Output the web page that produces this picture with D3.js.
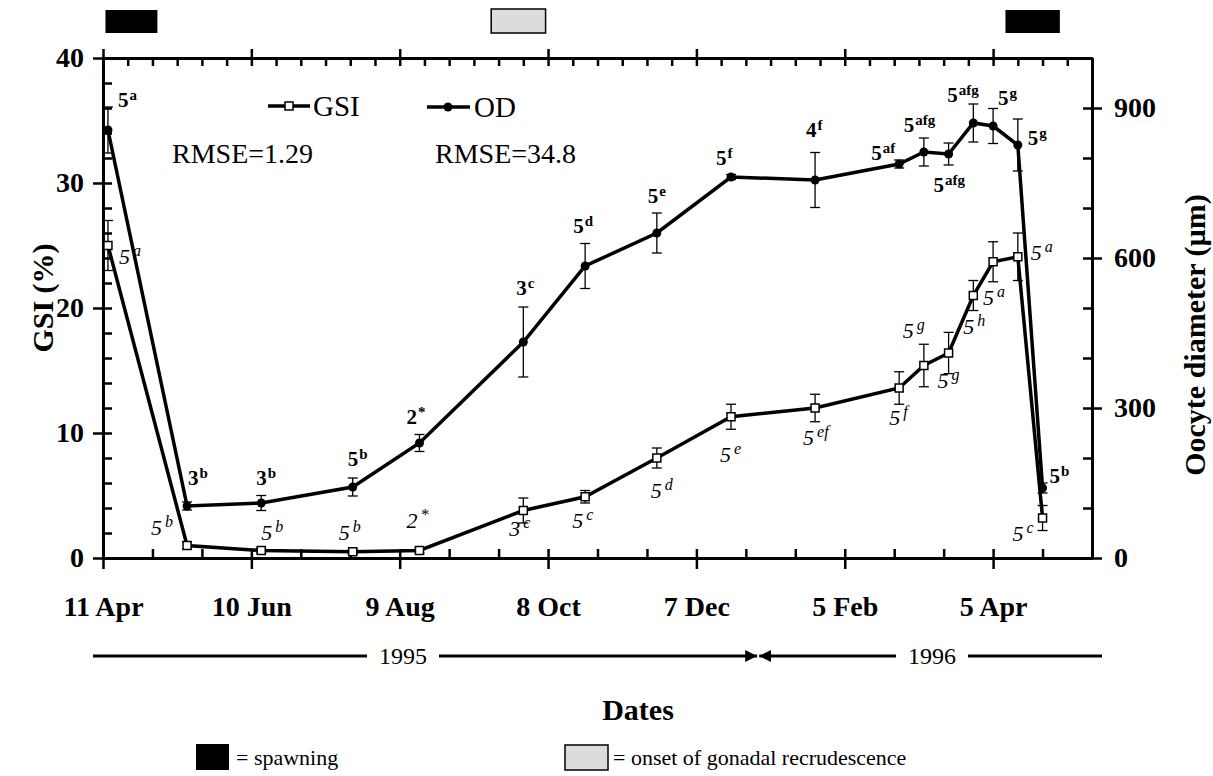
<!DOCTYPE html>
<html>
<head>
  <meta charset="utf-8">
  <title>GSI and oocyte diameter</title>
  <style>
    body { margin: 0; background: #fff; }
    svg { font-family: "Liberation Serif", "Times New Roman", serif; }
    .axis path, .axis line { stroke: #000; }
    .axis path { stroke-width: 3; }
    .axis line { stroke-width: 2.5; }
    .axis text { font-size: 28px; font-weight: bold; font-family: "Liberation Serif", serif; fill: #000; }
  </style>
  <script src="https://cdn.jsdelivr.net/npm/d3@7"></script>
</head>
<body>
<div id="chart"></div>
<script>
// sampling dates, same for both series
const dates = ['1995-04-13', '1995-05-15', '1995-06-14', '1995-07-21', '1995-08-17',
  '1995-09-28', '1995-10-23', '1995-11-21', '1995-12-21', '1996-01-24', '1996-02-27',
  '1996-03-08', '1996-03-18', '1996-03-28', '1996-04-05', '1996-04-15', '1996-04-25'];

// gonadosomatic index (%) and SE
const gsi    = [25.0, 1.0, 0.6, 0.5, 0.6, 3.8, 4.9, 8.0, 11.3, 12.0, 13.6, 15.4, 16.4, 21.0, 23.7, 24.1, 3.2];
const gsiErr = [2.0, 0.3, 0.2, 0.2, 0.2, 1.0, 0.5, 0.8, 1.0, 1.1, 1.3, 1.7, 1.65, 1.2, 1.6, 1.9, 1.0];

// oocyte diameter (um) and SE
const od    = [856, 104, 110, 142, 230, 432, 584, 650, 762, 756, 788, 812, 808, 870, 864, 826, 140];
const odErr = [46, 8, 15, 18, 17, 70, 45, 40, 5, 55, 8, 28, 22, 38, 35, 52, 10];

// n and significance letters
const gsiN   = [5, 5, 5, 5, 2, 3, 5, 5, 5, 5, 5, 5, 5, 5, 5, 5, 5];
const gsiSup = ['a', 'b', 'b', 'b', '*', 'c', 'c', 'd', 'e', 'ef', 'f', 'g', 'g', 'h', 'a', 'a', 'c'];
const odN    = [5, 3, 3, 5, 2, 3, 5, 5, 5, 4, 5, 5, 5, 5, 5, 5, 5];
const odSup  = ['a', 'b', 'b', 'b', '*', 'c', 'd', 'e', 'f', 'f', 'af', 'afg', 'afg', 'afg', 'g', 'g', 'b'];

const tickDays   = [0, 60, 120, 180, 240, 300, 360];
const tickLabels = ['11 Apr', '10 Jun', '9 Aug', '8 Oct', '7 Dec', '5 Feb', '5 Apr'];
const gsiTicks = [0, 10, 20, 30, 40];
const odTicks  = [0, 300, 600, 900];

const spawning = [['1995-04-12', '1995-05-03'], ['1996-04-10', '1996-05-02']];
const recrudescence = [['1995-09-15', '1995-10-07']];

// where each letter sits relative to its point
const odLabelPos = [[10, -23], [1, -21], [-5, -18], [-5, -21], [-13, -19], [-7, -47], [-12, -33],
  [-9, -30], [-15, -12], [-9, -43], [-28, -4], [-20, -20], [-15, 38], [-26, -21], [5, -21], [10, 0], [7, -5]];
const gsiLabelPos = [[11, 18], [-36, -11], [0, -11], [-14, -12], [-13, -23], [-14, 25], [-13, 31],
  [-6, 40], [-11, 45], [-12, 37], [-10, 37], [-21, -28], [-11, 35], [-10, 38], [-10, 43], [13, 3], [-30, 23]];

const W = 1213, H = 776;
const plot = { left: 103, right: 1092, top: 58, bottom: 558 };

const start = new Date('1995-04-11');
const x = d3.scaleUtc()
  .domain([start, new Date('1996-05-15')])
  .range([plot.left, plot.right]);
const yL = d3.scaleLinear().domain([0, 40]).range([plot.bottom, plot.top]);
const yR = d3.scaleLinear().domain([0, 1000]).range([plot.bottom, plot.top]);

const majorDates = tickDays.map(d => d3.utcDay.offset(start, d));
const topMinor = d3.range(0, 401, 10).map(d => d3.utcDay.offset(start, d));
const bottomMinor = d3.range(0, 401, 20).map(d => d3.utcDay.offset(start, d));

const svg = d3.select('#chart').append('svg')
  .attr('width', W)
  .attr('height', H);

const data = dates.map((d, i) => ({
  date: new Date(d), gsi: gsi[i], ge: gsiErr[i], od: od[i], oe: odErr[i]
}));

// ---- axes ----
// bottom
svg.append('g').attr('class', 'axis').attr('transform', `translate(0,${plot.bottom})`)
  .call(d3.axisBottom(x).tickValues(majorDates).tickSize(11).tickSizeOuter(0)
    .tickPadding(27).tickFormat((d, i) => tickLabels[i]));
svg.append('g').attr('class', 'axis').attr('transform', `translate(0,${plot.bottom})`)
  .call(d3.axisTop(x).tickValues(bottomMinor).tickSize(9).tickSizeOuter(0).tickFormat(''));
// top
svg.append('g').attr('class', 'axis').attr('transform', `translate(0,${plot.top})`)
  .call(d3.axisTop(x).tickValues(majorDates).tickSize(9).tickSizeOuter(0).tickFormat(''));
svg.append('g').attr('class', 'axis').attr('transform', `translate(0,${plot.top})`)
  .call(d3.axisBottom(x).tickValues(topMinor).tickSize(8).tickSizeOuter(0).tickFormat(''));
// left
svg.append('g').attr('class', 'axis').attr('transform', `translate(${plot.left},0)`)
  .call(d3.axisLeft(yL).tickValues(gsiTicks).tickSize(10).tickSizeOuter(0).tickPadding(9));
svg.append('g').attr('class', 'axis').attr('transform', `translate(${plot.left},0)`)
  .call(d3.axisRight(yL).tickValues(d3.range(0, 41, 2)).tickSize(9).tickSizeOuter(0).tickFormat(''));
// right
svg.append('g').attr('class', 'axis').attr('transform', `translate(${plot.right},0)`)
  .call(d3.axisRight(yR).tickValues(odTicks).tickSize(10).tickSizeOuter(0).tickPadding(12));
svg.append('g').attr('class', 'axis').attr('transform', `translate(${plot.right},0)`)
  .call(d3.axisLeft(yR).tickValues(d3.range(0, 1001, 100)).tickSize(9).tickSizeOuter(0).tickFormat(''));

// axis titles
svg.append('text')
  .attr('transform', 'translate(42,298) rotate(-90)')
  .attr('text-anchor', 'middle').attr('dy', '0.35em')
  .style('font-size', '30px').style('font-weight', 'bold')
  .text('GSI (%)');
svg.append('text')
  .attr('transform', 'translate(1194,335) rotate(-90)')
  .attr('text-anchor', 'middle').attr('dy', '0.35em')
  .style('font-size', '30px').style('font-weight', 'bold')
  .text('Oocyte diameter (µm)');
svg.append('text')
  .attr('x', 638).attr('y', 720)
  .attr('text-anchor', 'middle')
  .style('font-size', '30px').style('font-weight', 'bold')
  .text('Dates');

// ---- period boxes above the plot ----
svg.selectAll('rect.spawn').data(spawning).enter().append('rect')
  .attr('class', 'spawn')
  .attr('x', d => x(new Date(d[0])))
  .attr('width', d => x(new Date(d[1])) - x(new Date(d[0])))
  .attr('y', 10).attr('height', 23)
  .attr('fill', '#000');
svg.selectAll('rect.recr').data(recrudescence).enter().append('rect')
  .attr('class', 'recr')
  .attr('x', d => x(new Date(d[0])))
  .attr('width', d => x(new Date(d[1])) - x(new Date(d[0])))
  .attr('y', 9).attr('height', 24)
  .attr('fill', '#dcdcdc').attr('stroke', '#000').attr('stroke-width', 1.5);

// ---- series ----
const gsiLine = d3.line().x(d => x(d.date)).y(d => yL(d.gsi));
const odLine = d3.line().x(d => x(d.date)).y(d => yR(d.od));

svg.append('path').datum(data).attr('d', gsiLine)
  .attr('fill', 'none').attr('stroke', '#000').attr('stroke-width', 3.5);
svg.append('path').datum(data).attr('d', odLine)
  .attr('fill', 'none').attr('stroke', '#000').attr('stroke-width', 3.5);

function errorBars(cls, yv, ye, sc) {
  const g = svg.selectAll('g.' + cls).data(data).enter().append('g')
    .attr('class', cls).attr('stroke', '#000').attr('stroke-width', 1.3);
  g.append('line')
    .attr('x1', d => x(d.date)).attr('x2', d => x(d.date))
    .attr('y1', d => sc(d[yv] - d[ye])).attr('y2', d => sc(d[yv] + d[ye]));
  g.append('line')
    .attr('x1', d => x(d.date) - 5).attr('x2', d => x(d.date) + 5)
    .attr('y1', d => sc(d[yv] + d[ye])).attr('y2', d => sc(d[yv] + d[ye]));
  g.append('line')
    .attr('x1', d => x(d.date) - 5).attr('x2', d => x(d.date) + 5)
    .attr('y1', d => sc(d[yv] - d[ye])).attr('y2', d => sc(d[yv] - d[ye]));
}
errorBars('egsi', 'gsi', 'ge', yL);
errorBars('eod', 'od', 'oe', yR);

svg.selectAll('circle.od').data(data).enter().append('circle')
  .attr('class', 'od')
  .attr('cx', d => x(d.date)).attr('cy', d => yR(d.od)).attr('r', 4.5)
  .attr('fill', '#000');
svg.selectAll('rect.gsi').data(data).enter().append('rect')
  .attr('class', 'gsi')
  .attr('x', d => x(d.date) - 4).attr('y', d => yL(d.gsi) - 4)
  .attr('width', 8).attr('height', 8)
  .attr('fill', '#fff').attr('stroke', '#000').attr('stroke-width', 1.5);

// ---- letters ----
function letters(nums, sups, pos, yv, sc, italic) {
  const t = svg.selectAll(null).data(data).enter().append('text')
    .attr('x', (d, i) => x(d.date) + pos[i][0])
    .attr('y', (d, i) => sc(d[yv]) + pos[i][1])
    .style('font-size', italic ? '22px' : '21px')
    .style('font-weight', italic ? 'normal' : 'bold')
    .style('font-style', italic ? 'italic' : 'normal');
  t.append('tspan').text((d, i) => nums[i]);
  t.append('tspan')
    .attr('dy', '-0.5em').attr('dx', italic ? 3 : 1)
    .style('font-size', italic ? '16px' : '15px')
    .text((d, i) => sups[i]);
}
letters(odN, odSup, odLabelPos, 'od', yR, false);
letters(gsiN, gsiSup, gsiLabelPos, 'gsi', yL, true);

// ---- inner legend ----
const lg = svg.append('g');
lg.append('line').attr('x1', 268).attr('x2', 310).attr('y1', 106).attr('y2', 106)
  .attr('stroke', '#000').attr('stroke-width', 3.5);
lg.append('rect').attr('x', 285).attr('y', 102).attr('width', 8).attr('height', 8)
  .attr('fill', '#fff').attr('stroke', '#000').attr('stroke-width', 1.5);
lg.append('text').attr('x', 313).attr('y', 116).style('font-size', '29px').text('GSI');
lg.append('line').attr('x1', 427).attr('x2', 470).attr('y1', 107).attr('y2', 107)
  .attr('stroke', '#000').attr('stroke-width', 3.5);
lg.append('circle').attr('cx', 448).attr('cy', 107).attr('r', 4.5).attr('fill', '#000');
lg.append('text').attr('x', 474).attr('y', 117).style('font-size', '29px').text('OD');
lg.append('text').attr('x', 172).attr('y', 163).style('font-size', '28px').text('RMSE=1.29');
lg.append('text').attr('x', 435).attr('y', 163).style('font-size', '28px').text('RMSE=34.8');

// ---- year arrows ----
const yearY = 656;
const newYear = x(new Date('1996-01-01'));
const defs = svg.append('defs');
defs.append('marker').attr('id', 'arrow')
  .attr('viewBox', '0 0 10 10').attr('refX', 10).attr('refY', 5)
  .attr('markerWidth', 4).attr('markerHeight', 4).attr('orient', 'auto')
  .append('path').attr('d', 'M0,0 L10,5 L0,10 z').attr('fill', '#000');
svg.append('line').attr('x1', 93).attr('x2', newYear - 1).attr('y1', yearY).attr('y2', yearY)
  .attr('stroke', '#000').attr('stroke-width', 3).attr('marker-end', 'url(#arrow)');
svg.append('line').attr('x1', 1102).attr('x2', newYear + 1).attr('y1', yearY).attr('y2', yearY)
  .attr('stroke', '#000').attr('stroke-width', 3).attr('marker-end', 'url(#arrow)');
[['1995', 403], ['1996', 932]].forEach(([t, cx]) => {
  svg.append('rect').attr('x', cx - 36).attr('y', yearY - 12).attr('width', 72).attr('height', 24)
    .attr('fill', '#fff');
  svg.append('text').attr('x', cx).attr('y', yearY + 8).attr('text-anchor', 'middle')
    .style('font-size', '24px').text(t);
});

// ---- bottom legend ----
svg.append('rect').attr('x', 196).attr('y', 744).attr('width', 33).attr('height', 26).attr('fill', '#000');
svg.append('text').attr('x', 236).attr('y', 765).style('font-size', '22px').text('= spawning');
svg.append('rect').attr('x', 565).attr('y', 745).attr('width', 43).attr('height', 25)
  .attr('fill', '#dcdcdc').attr('stroke', '#000').attr('stroke-width', 1.5);
svg.append('text').attr('x', 613).attr('y', 765).style('font-size', '22px')
  .text('= onset of gonadal recrudescence');
</script>
</body>
</html>
